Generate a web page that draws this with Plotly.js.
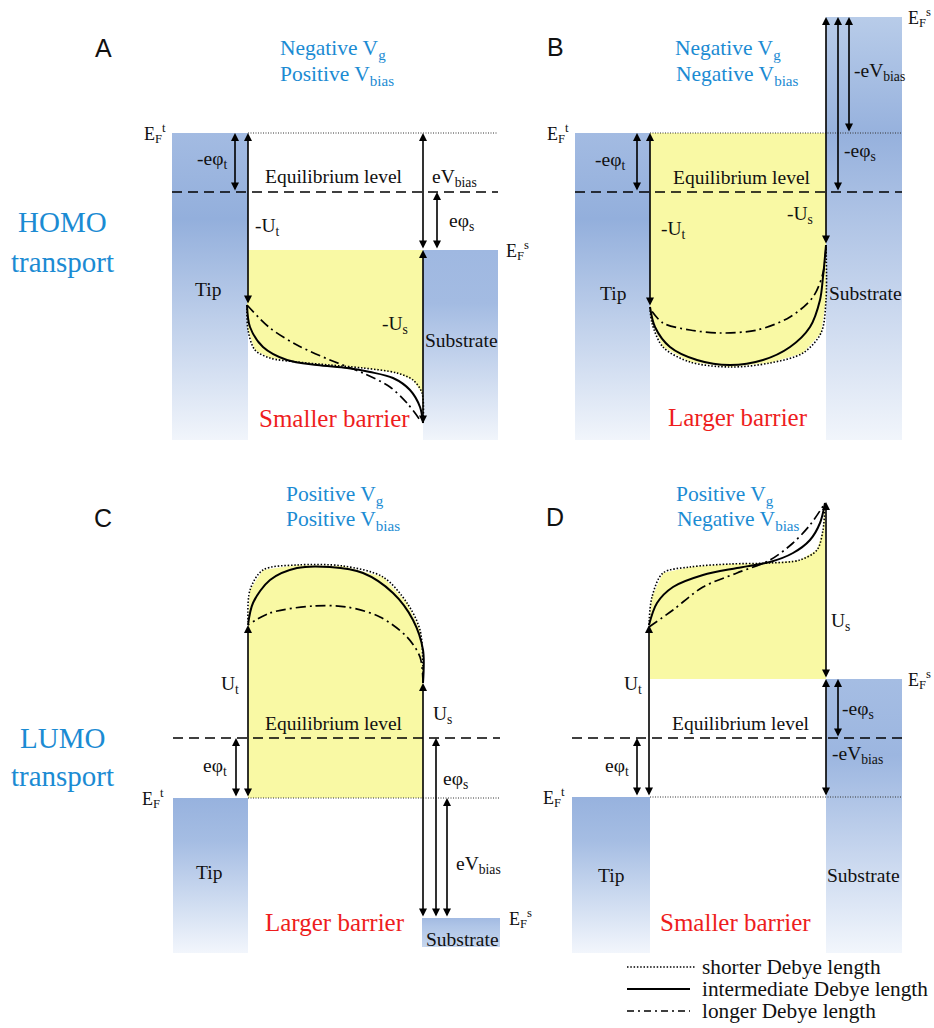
<!DOCTYPE html>
<html><head><meta charset="utf-8">
<script src="https://cdn.plot.ly/plotly-3.0.1.min.js"></script>
<style>html,body{margin:0;padding:0;background:#fff}#chart{width:934px;height:1028px}</style>
</head><body><div id="chart"></div>
<script>
// ---------- Data (schematic energy levels) ----------
// Electrode blocks: [x0, x1, yTop, yBottom]
const blockTipA = [172, 248, 133, 440];
const blockSubA = [423, 498, 250, 440];
const blockTipB = [575, 650, 133, 440];
const blockSubB = [826, 902, 17, 440];
const blockTipC = [173, 248, 798, 953];
const blockSubC = [422, 500, 918, 947];
const blockTipD = [572, 650, 797, 953];
const blockSubD = [826, 902, 679, 953];

// Potential-barrier curves (shorter / intermediate / longer Debye length)
const A_short_x = [247, 248, 255, 270, 297, 330, 363, 397, 413, 422, 423];
const A_short_y = [305, 330, 350, 358, 362, 365, 368, 373, 380, 393, 423];
const A_mid_x = [247, 250, 263, 287, 317, 347, 370, 393, 410, 420, 423];
const A_mid_y = [305, 327, 347, 360, 365, 368, 372, 378, 390, 407, 423];
const A_long_x = [247, 270, 297, 330, 363, 390, 407, 420];
const A_long_y = [305, 328, 345, 360, 373, 387, 403, 420];

const B_short_x = [826, 826, 821, 803, 770, 730, 690, 663, 652, 650];
const B_short_y = [245, 300, 333, 353, 363, 367, 362, 347, 323, 307];
const B_mid_x = [826, 823, 820, 810, 790, 763, 730, 697, 670, 655, 650];
const B_mid_y = [245, 277, 300, 327, 347, 360, 365, 360, 347, 327, 307];
const B_long_x = [826, 823, 813, 790, 757, 720, 690, 663, 651];
const B_long_y = [247, 273, 297, 317, 330, 333, 330, 323, 310];

const C_short_x = [423, 423, 420, 407, 383, 343, 297, 263, 250, 248];
const C_short_y = [683, 670, 630, 603, 577, 566, 565, 570, 590, 622];
const C_mid_x = [423, 423, 413, 393, 363, 330, 297, 270, 253, 248];
const C_mid_y = [683, 650, 620, 593, 573, 567, 568, 580, 603, 625];
const C_long_x = [423, 420, 407, 380, 347, 313, 270, 248];
const C_long_y = [683, 657, 637, 617, 607, 606, 613, 625];

const D_short_x = [649, 652, 663, 690, 730, 770, 800, 817, 823, 825];
const D_short_y = [625, 597, 573, 567, 564, 563, 560, 550, 530, 503];
const D_mid_x = [649, 657, 673, 703, 737, 770, 793, 810, 820, 825];
const D_mid_y = [625, 603, 587, 575, 568, 562, 553, 540, 523, 503];
const D_long_x = [649, 673, 703, 737, 770, 793, 810, 825];
const D_long_y = [627, 610, 587, 573, 560, 543, 525, 503];

// Level lines: [x0, x1, y]
const fermiLines = [[248, 498, 133], [650, 902, 133], [248, 500, 798], [650, 902, 797]];
const equilLines = [[172, 498, 192], [575, 902, 192], [173, 500, 738], [572, 902, 738]];

// Double arrows: [x, y1, y2]
const arrowsA = [[235, 133, 192], [248, 133, 305], [423, 133, 250], [437, 192, 250], [423, 250, 425]];
const arrowsB = [[637, 133, 192], [650, 133, 307], [826, 17, 245], [838, 17, 192], [849, 17, 133]];
const arrowsC = [[236, 738, 798], [248, 625, 798], [423, 683, 918], [436, 738, 918], [447, 798, 918]];
const arrowsD = [[637, 738, 797], [649, 625, 797], [826, 502, 679], [826, 679, 797], [838, 679, 738]];

// Labels
const panelLetters = ['A', 'B', 'C', 'D'];
const legendLabels = ['shorter Debye length', 'intermediate Debye length', 'longer Debye length'];

// ---------- Build ----------
const BLUE = '#1b8bd3', RED = '#ee1d1d', YEL = '#f9f9a4';
const traces = [];

function block(b, top, mid, bot) {
  traces.push({
    type: 'scatter', mode: 'lines', hoverinfo: 'skip', showlegend: false,
    x: [b[0], b[1], b[1], b[0], b[0]], y: [b[2], b[2], b[3], b[3], b[2]],
    line: {width: 0, color: 'rgba(0,0,0,0)'}, fill: 'toself',
    fillgradient: {type: 'vertical', start: b[2], stop: b[3],
      colorscale: [[0, top], [0.28, mid], [1, bot]]}
  });
}
block(blockTipA, '#a3bbe2', '#93afdc', '#f1f5fb');
block(blockSubA, '#9fb8e1', '#a3bbe2', '#f1f5fb');
block(blockTipB, '#a3bbe2', '#93afdc', '#f1f5fb');
block(blockSubB, '#b8cce9', '#96b1dd', '#f1f5fb');
block(blockTipC, '#97b2de', '#a5bde3', '#f2f6fc');
block(blockSubC, '#a2bae2', '#afc5e7', '#c6d6ee');
block(blockTipD, '#97b2de', '#a5bde3', '#f2f6fc');
block(blockSubD, '#a5bde3', '#9cb6e0', '#f2f6fc');

function yellow(xs, ys) {
  traces.push({type: 'scatter', mode: 'lines', hoverinfo: 'skip', showlegend: false,
    x: xs, y: ys, fill: 'toself', fillcolor: YEL, line: {width: 0, color: 'rgba(0,0,0,0)'}});
}
const rev = a => a.slice().reverse();
yellow([248, 423].concat(rev(A_short_x)), [250, 250].concat(rev(A_short_y)));
yellow([650, 826].concat(B_short_x), [133, 133].concat(B_short_y));
yellow([248, 423].concat(C_short_x), [798, 798].concat(C_short_y));
yellow([650, 826].concat(rev(D_short_x)), [679, 679].concat(rev(D_short_y)));

function curve(xs, ys, dash, w) {
  traces.push({type: 'scatter', mode: 'lines', hoverinfo: 'skip', showlegend: false,
    x: xs, y: ys, line: {color: '#000', width: w, dash: dash, shape: 'spline', smoothing: 0.9}});
}
const DOT = '1.5px,1.8px', DASHDOT = '10px,4px,2px,4px';
[[A_short_x, A_short_y, A_mid_x, A_mid_y, A_long_x, A_long_y],
 [B_short_x, B_short_y, B_mid_x, B_mid_y, B_long_x, B_long_y],
 [C_short_x, C_short_y, C_mid_x, C_mid_y, C_long_x, C_long_y],
 [D_short_x, D_short_y, D_mid_x, D_mid_y, D_long_x, D_long_y]].forEach(p => {
  curve(p[0], p[1], DOT, 1.6);
  curve(p[2], p[3], 'solid', 2);
  curve(p[4], p[5], DASHDOT, 1.7);
});

fermiLines.forEach(l => traces.push({type: 'scatter', mode: 'lines', hoverinfo: 'skip', showlegend: false,
  x: [l[0], l[1]], y: [l[2], l[2]], line: {color: '#333', width: 1, dash: '1px,1.5px'}}));
equilLines.forEach(l => traces.push({type: 'scatter', mode: 'lines', hoverinfo: 'skip', showlegend: false,
  x: [l[0], l[1]], y: [l[2], l[2]], line: {color: '#000', width: 1.6, dash: '10px,6px'}}));

// legend samples
const legendY = [967, 989, 1011];
traces.push({type: 'scatter', mode: 'lines', hoverinfo: 'skip', showlegend: false, x: [627, 695], y: [legendY[0], legendY[0]], line: {color: '#000', width: 1.4, dash: '1.5px,1.8px'}});
traces.push({type: 'scatter', mode: 'lines', hoverinfo: 'skip', showlegend: false, x: [627, 690], y: [legendY[1], legendY[1]], line: {color: '#000', width: 2}});
traces.push({type: 'scatter', mode: 'lines', hoverinfo: 'skip', showlegend: false, x: [627, 690], y: [legendY[2], legendY[2]], line: {color: '#000', width: 1.5, dash: '7px,4px,2px,4px'}});

const ann = [];
[arrowsA, arrowsB, arrowsC, arrowsD].forEach(set => set.forEach(a => ann.push({
  x: a[0], y: a[1], ax: a[0], ay: a[2], xref: 'x', yref: 'y', axref: 'x', ayref: 'y',
  showarrow: true, arrowside: 'end+start', arrowhead: 2, startarrowhead: 2,
  arrowsize: 1, startarrowsize: 1, arrowwidth: 1.6, arrowcolor: '#000', text: ''
})));

const SERIF = 'Liberation Serif';
function t(x, y, text, size, color, anchor) {
  ann.push({x: x, y: y, xref: 'x', yref: 'y', text: text, showarrow: false,
    xanchor: anchor || 'center', yanchor: 'middle',
    font: {family: SERIF, size: size, color: color || '#111'}});
}
const FT = 21.5, FE = 19.5, FL = 19.5, FB = 25, FF = 18;
// panel letters
[[103, 48], [555, 47], [103, 518], [555, 517]].forEach((p, i) => ann.push({
  x: p[0], y: p[1], xref: 'x', yref: 'y', text: panelLetters[i], showarrow: false,
  font: {family: 'Liberation Sans', size: 25, color: '#111'}}));
// side labels
t(62, 222, 'HOMO', 29, BLUE); t(62, 262, 'transport', 29, BLUE);
t(62, 738, 'LUMO', 29, BLUE); t(62, 776, 'transport', 29, BLUE);
// titles
t(333, 49, 'Negative V<sub>g</sub>', FT, BLUE); t(337, 75, 'Positive V<sub>bias</sub>', FT, BLUE);
t(728, 49, 'Negative V<sub>g</sub>', FT, BLUE); t(737, 75, 'Negative V<sub>bias</sub>', FT, BLUE);
t(335, 495, 'Positive V<sub>g</sub>', FT, BLUE); t(343, 520, 'Positive V<sub>bias</sub>', FT, BLUE);
t(725, 495, 'Positive V<sub>g</sub>', FT, BLUE); t(738, 520, 'Negative V<sub>bias</sub>', FT, BLUE);
// equilibrium
t(334, 176, 'Equilibrium level', FE); t(742, 177, 'Equilibrium level', FE);
t(334, 723, 'Equilibrium level', FE); t(741, 723, 'Equilibrium level', FE);
// Fermi labels
t(168, 133, 'E<sub>F</sub><sup>t</sup>', FF, '#111', 'right');
t(504, 250, 'E<sub>F</sub><sup>s</sup>', FF, '#111', 'left');
t(571, 133, 'E<sub>F</sub><sup>t</sup>', FF, '#111', 'right');
t(906, 17, 'E<sub>F</sub><sup>s</sup>', FF, '#111', 'left');
t(166, 798, 'E<sub>F</sub><sup>t</sup>', FF, '#111', 'right');
t(507, 918, 'E<sub>F</sub><sup>s</sup>', FF, '#111', 'left');
t(567, 797, 'E<sub>F</sub><sup>t</sup>', FF, '#111', 'right');
t(906, 679, 'E<sub>F</sub><sup>s</sup>', FF, '#111', 'left');
// panel A
t(212, 160, '-eφ<sub>t</sub>', FL); t(253, 227, '-U<sub>t</sub>', FL, '#111', 'left');
t(430, 178, 'eV<sub>bias</sub>', FL, '#111', 'left'); t(447, 222, 'eφ<sub>s</sub>', FL, '#111', 'left');
t(208, 289, 'Tip', FL); t(395, 325, '-U<sub>s</sub>', FL); t(461, 340, 'Substrate', FL);
t(334, 418, 'Smaller barrier', FB, RED);
// panel B
t(610, 161, '-eφ<sub>t</sub>', FL); t(673, 230, '-U<sub>t</sub>', FL);
t(852, 72, '-eV<sub>bias</sub>', FL, '#111', 'left'); t(842, 152, '-eφ<sub>s</sub>', FL, '#111', 'left');
t(800, 215, '-U<sub>s</sub>', FL); t(613, 293, 'Tip', FL); t(865, 293, 'Substrate', FL);
t(738, 417, 'Larger barrier', FB, RED);
// panel C
t(230, 685, 'U<sub>t</sub>', FL); t(442, 715, 'U<sub>s</sub>', FL);
t(215, 767, 'eφ<sub>t</sub>', FL); t(455, 780, 'eφ<sub>s</sub>', FL);
t(478, 865, 'eV<sub>bias</sub>', FL); t(209, 872, 'Tip', FL);
t(335, 922, 'Larger barrier', FB, RED); t(462, 939, 'Substrate', FL);
// panel D
t(840, 622, 'U<sub>s</sub>', FL); t(633, 685, 'U<sub>t</sub>', FL);
t(858, 710, '-eφ<sub>s</sub>', FL); t(857, 755, '-eV<sub>bias</sub>', FL);
t(617, 767, 'eφ<sub>t</sub>', FL); t(611, 875, 'Tip', FL); t(863, 875, 'Substrate', FL);
t(735, 922, 'Smaller barrier', FB, RED);
// legend text
legendLabels.forEach((s, i) => t(700, legendY[i], s, 21.3, '#111', 'left'));

const layout = {
  width: 934, height: 1028, margin: {l: 0, r: 0, t: 0, b: 0},
  font: {family: 'Liberation Serif'},
  paper_bgcolor: '#fff', plot_bgcolor: '#fff', showlegend: false,
  xaxis: {range: [0, 934], visible: false, fixedrange: true},
  yaxis: {range: [1028, 0], visible: false, fixedrange: true},
  annotations: ann
};
Plotly.newPlot('chart', traces, layout, {displayModeBar: false, staticPlot: true});
</script>
</body></html>
